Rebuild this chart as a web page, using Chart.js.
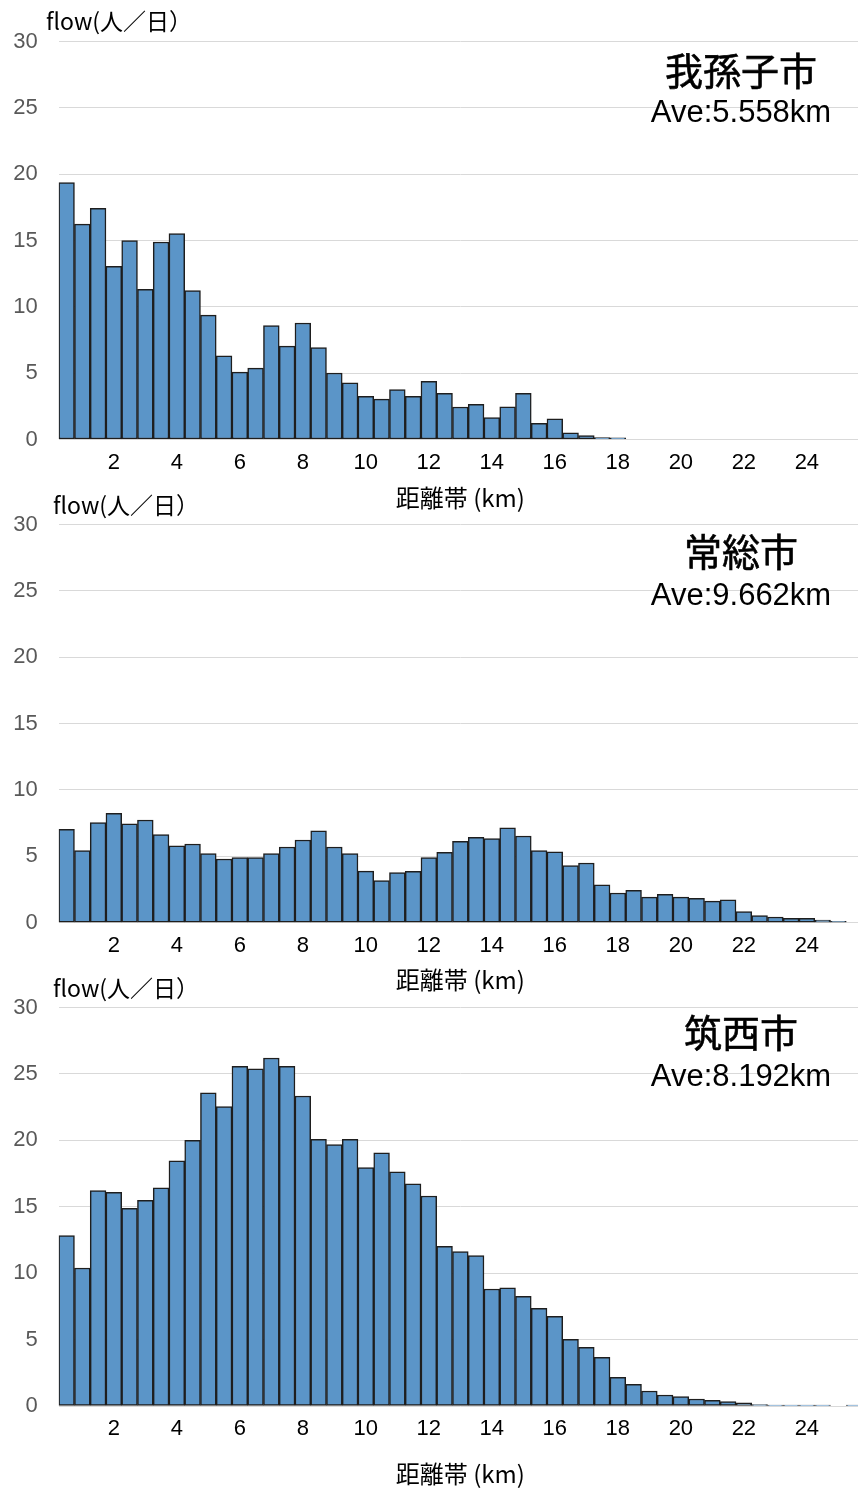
<!DOCTYPE html>
<html><head><meta charset="utf-8">
<script src="https://cdn.jsdelivr.net/npm/chart.js@4.4.0/dist/chart.umd.min.js"></script>
<style>
html,body{margin:0;padding:0;background:#fff;overflow:hidden;width:858px;height:1490px;}
.wrap{position:absolute;left:0;}
canvas{display:block;}
</style></head><body>
<div class="wrap" style="top:0"><canvas id="c1" width="862" height="520"></canvas></div>
<div class="wrap" style="top:483px"><canvas id="c2" width="862" height="520"></canvas></div>
<div class="wrap" style="top:966px"><canvas id="c3" width="862" height="524"></canvas></div>
<script>
// distance bands (km)
const distanceLabels = [0.5,1,1.5,2,2.5,3,3.5,4,4.5,5,5.5,6,6.5,7,7.5,8,8.5,9,9.5,10,
  10.5,11,11.5,12,12.5,13,13.5,14,14.5,15,15.5,16,16.5,17,17.5,18,18.5,19,19.5,20,
  20.5,21,21.5,22,22.5,23,23.5,24,24.5,25,25.5];

// 我孫子市
const abikoFlow = [19.37,16.23,17.43,13.06,14.99,11.32,14.89,15.52,11.22,9.38,
  6.31,5.08,5.38,8.58,7.04,8.78,6.92,5.01,4.28,3.25,
  3.04,3.77,3.25,4.38,3.48,2.45,2.65,1.65,2.47,3.48,
  1.22,1.55,0.51,0.29,0.14,0.12];

// 常総市
const josoFlow = [7.04,5.43,7.54,8.24,7.44,7.74,6.63,5.80,5.93,5.20,
  4.80,4.90,4.90,5.20,5.70,6.23,6.93,5.70,5.20,3.89,
  3.17,3.77,3.87,4.90,5.30,6.13,6.43,6.33,7.14,6.53,
  5.43,5.33,4.30,4.50,2.86,2.24,2.44,1.93,2.14,1.93,
  1.83,1.63,1.73,0.83,0.53,0.43,0.33,0.33,0.20,0.10];

// 筑西市
const chikuseiFlow = [12.83,10.39,16.21,16.09,14.88,15.49,16.42,18.45,20.00,23.57,
  22.54,25.58,25.38,26.20,25.58,23.34,20.08,19.68,20.08,17.95,
  19.05,17.62,16.72,15.81,12.02,11.62,11.32,8.81,8.89,8.26,
  7.35,6.75,5.02,4.42,3.66,2.16,1.63,1.13,0.83,0.70,
  0.53,0.43,0.33,0.23,0.10,0.06,0.06,0.06,0.06,null,0.06];

const cityNames = ['我孫子市','常総市','筑西市'];
const aveTexts = ['Ave:5.558km','Ave:9.662km','Ave:8.192km'];
const yTickValues = [0,5,10,15,20,25,30];
const unitLabel = 'flow(人／日）';
const xTitle = '距離帯 (km)';

const annot = {
  id:'annot',
  afterDraw(chart, args, o){
    const ctx = chart.ctx;
    ctx.save();
    ctx.fillStyle = '#000';
    ctx.textBaseline = 'middle';
    ctx.textAlign = 'left';
    ctx.font = '23px "Noto Sans CJK JP"';
    ctx.fillText(o.unit, o.unitX, o.unitY);
    ctx.textAlign = 'center';
    ctx.font = '38px "Noto Sans CJK JP"';
    ctx.fillText(o.city, o.cityX, o.cityY);
    ctx.lineWidth = 0.6;
    ctx.strokeStyle = '#000';
    ctx.strokeText(o.city, o.cityX, o.cityY);
    ctx.font = '31px "Liberation Sans"';
    ctx.fillText(o.ave, o.aveX, o.aveY);
    ctx.restore();
  }
};

function makeChart(id, values, idx, xH, titlePadBottom, unitX, unitY, cityY, aveY){
  return new Chart(document.getElementById(id), {
    type:'bar',
    data:{labels:distanceLabels, datasets:[{
      data:values,
      backgroundColor:'#5b95c8',
      borderColor:'#1e1e1e',
      borderWidth:1.5,
      borderSkipped:false,
      barPercentage:1,
      categoryPercentage:1
    }]},
    plugins:[annot],
    options:{
      responsive:false,
      animation:false,
      devicePixelRatio:1,
      layout:{padding:{top:41.5,left:0,right:0,bottom:0}},
      plugins:{
        legend:{display:false},
        tooltip:{enabled:false},
        annot:{unit:unitLabel, unitX:unitX, unitY:unitY, city:cityNames[idx], cityX:741, cityY:cityY, ave:aveTexts[idx], aveX:741, aveY:aveY}
      },
      scales:{
        x:{
          type:'category',
          offset:true,
          grid:{display:false},
          border:{display:false},
          ticks:{
            autoSkip:false, maxRotation:0, minRotation:0,
            color:'#000', padding:2,
            font:{family:'"Liberation Sans"', size:22},
            callback:function(v){ const d = Number(this.getLabelForValue(v)); return (d % 2 === 0) ? String(d) : ''; }
          },
          title:{display:true, text:xTitle, color:'#000',
            font:{family:'"Noto Sans CJK JP"', size:24},
            padding:{top:0,bottom:titlePadBottom}},
          afterFit(s){ s.height = xH; }
        },
        y:{
          min:0, max:30,
          afterBuildTicks(s){ s.ticks = yTickValues.map(v=>({value:v})); },
          grid:{color:'#d9d9d9', lineWidth:1, drawTicks:false},
          border:{display:false},
          ticks:{color:'#595959', padding:21, font:{family:'"Liberation Sans"', size:22}},
          afterFit(s){ s.width = 58.7; }
        }
      }
    }
  });
}

makeChart('c1', abikoFlow, 0, 80.5, 8, 46, 21, 71, 113);
makeChart('c2', josoFlow, 1, 80.3, 9, 53, 22, 69, 113);
makeChart('c3', chikuseiFlow, 2, 84, 2, 53, 22, 67, 111);
</script>
</body></html>
